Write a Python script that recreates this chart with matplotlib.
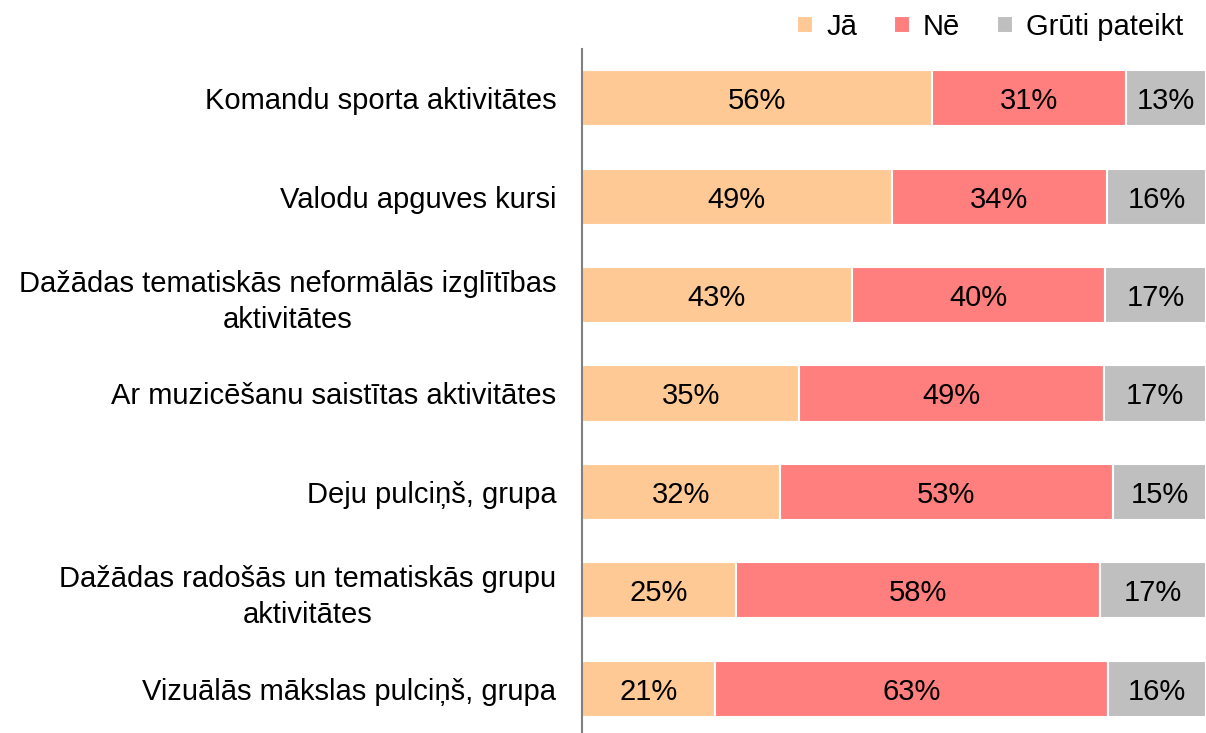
import numpy as np
import matplotlib.pyplot as plt

plt.rcParams['font.family'] = ['Liberation Sans', 'DejaVu Sans']

categories = ["Komandu sporta aktivitātes",
              "Valodu apguves kursi",
              "Dažādas tematiskās neformālās izglītības\naktivitātes",
              "Ar muzicēšanu saistītas aktivitātes",
              "Deju pulciņš, grupa",
              "Dažādas radošās un tematiskās grupu\naktivitātes",
              "Vizuālās mākslas pulciņš, grupa"]
ja = [56.1, 49.6, 43.2, 34.8, 31.7, 24.6, 21.3]
ne = [31.0, 34.6, 40.6, 48.8, 53.4, 58.4, 63.0]
gruti = [12.9, 15.8, 16.2, 16.4, 14.9, 17.0, 15.7]
ja_lbl = [56, 49, 43, 35, 32, 25, 21]
ne_lbl = [31, 34, 40, 49, 53, 58, 63]
gruti_lbl = [13, 16, 17, 17, 15, 17, 16]
series_names = ["Jā", "Nē", "Grūti pateikt"]
colors = ["#FFC996", "#FF7F7F", "#BFBFBF"]

fs = 21
fig = plt.figure(figsize=(12.06, 7.33), dpi=100)
ax = fig.add_axes([582 / 1206, 0, 1 - 582 / 1206, 1 - 49 / 733])

y = np.arange(len(categories))
left = np.zeros(len(categories))
for vals, lbls, name, col in zip([ja, ne, gruti], [ja_lbl, ne_lbl, gruti_lbl], series_names, colors):
    bars = ax.barh(y, vals, left=left, height=0.57, color=col, edgecolor="white",
                   linewidth=1.5, label=name)
    for b, l in zip(bars, lbls):
        ax.text(b.get_x() + b.get_width() / 2, b.get_y() + b.get_height() / 2, f"{l}%",
                ha="center", va="center_baseline", fontsize=fs, color="black")
    left += np.array(vals)

ax.set_xlim(0, 100)
ax.set_ylim(6.45, -0.5)
ax.set_yticks(y)
ax.set_yticklabels(categories, fontsize=fs, multialignment="center", linespacing=1.35)
ax.tick_params(axis="y", length=0, pad=18.5)
ax.set_xticks([])
for s in ["top", "right", "bottom"]:
    ax.spines[s].set_visible(False)
ax.spines["left"].set_color("#808080")
ax.spines["left"].set_linewidth(1.5)
ax.spines["left"].set_zorder(5)

fig.legend(loc="center right", bbox_to_anchor=(1183 / 1206, 1 - 27 / 733), ncol=3, frameon=False,
           fontsize=fs, handlelength=0.55, handleheight=0.55, handletextpad=0.45,
           columnspacing=1.25, borderaxespad=0, borderpad=0)

fig.savefig("out.png", dpi=100)
